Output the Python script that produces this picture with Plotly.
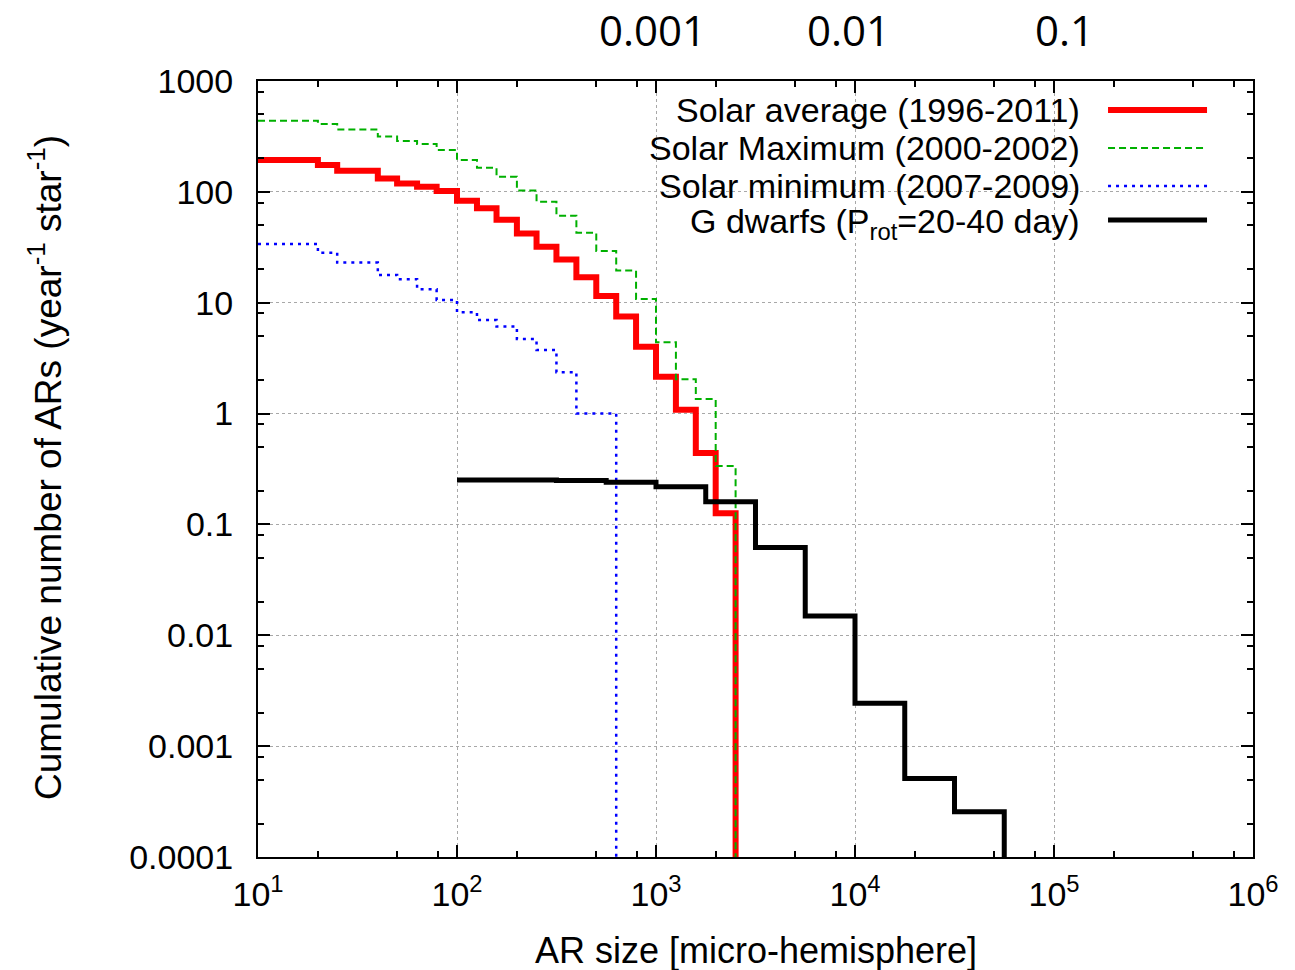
import math
import plotly.graph_objects as go

# ---- data ----
# AR size bins (micro-hemisphere) where each cumulative step begins
avg_x = [10, 20, 25, 40, 50, 63, 79, 100, 126, 158, 200, 251, 316, 398, 501, 631, 794, 1000, 1259, 1585, 1995, 2512]
avg_y = [194, 175, 155, 132, 119, 111, 102, 83, 71, 56, 42, 32, 24.6, 17, 11.5, 7.5, 4.0, 2.15, 1.08, 0.44, 0.126, 1e-6]

max_x = [10, 20, 25, 40, 50, 63, 79, 100, 126, 158, 200, 251, 316, 398, 501, 631, 794, 1000, 1259, 1585, 1995, 2512]
max_y = [438, 409, 366, 315, 288, 270, 239, 194, 165, 137, 103, 81.6, 61, 42.8, 29.3, 19.5, 10.8, 4.4, 2.04, 1.35, 0.336, 1e-6]

min_x = [10, 20, 25, 40, 50, 63, 79, 100, 126, 158, 200, 251, 316, 398, 631]
min_y = [33.9, 28.3, 23, 17.8, 16.3, 13.2, 10.6, 8.2, 7.0, 6.1, 4.7, 3.75, 2.36, 1.0, 1e-6]

gd_x = [100, 316, 562, 1000, 1778, 3162, 5623, 10000, 17783, 31623, 56234]
gd_y = [0.252, 0.249, 0.240, 0.219, 0.160, 0.062, 0.0149, 0.00244, 0.00051, 0.000256, 1e-6]

series_names = ["Solar average (1996-2011)", "Solar Maximum (2000-2002)",
                "Solar minimum (2007-2009)", "G dwarfs (P<sub>rot</sub>=20-40 day)"]

y_tickvals = [1000, 100, 10, 1, 0.1, 0.01, 0.001, 0.0001]
y_ticktext = ["1000", "100", "10", "1", "0.1", "0.01", "0.001", "0.0001"]
x_tickvals = [10, 100, 1000, 10000, 100000, 1000000]
x_ticktext = ["10<sup>1</sup>", "10<sup>2</sup>", "10<sup>3</sup>", "10<sup>4</sup>", "10<sup>5</sup>", "10<sup>6</sup>"]
top_vals = [1000, 10000, 100000]
top_text = ["0.001", "0.01", "0.1"]

FONT = "Liberation Sans, Arial, sans-serif"

styles = [
    dict(color="#ff0000", width=6, dash="solid"),
    dict(color="#00b000", width=2, dash="7px,4px"),
    dict(color="#0000ff", width=2.5, dash="3px,5px"),
    dict(color="#000000", width=5, dash="solid"),
]

fig = go.Figure()
for (xs, ys), name, st in zip([(avg_x, avg_y), (max_x, max_y), (min_x, min_y), (gd_x, gd_y)],
                              series_names, styles):
    fig.add_trace(go.Scatter(x=xs, y=ys, mode="lines", line_shape="hv", name=name,
                             line=st, showlegend=False))

minor_x = []
for d in [10, 100, 1000, 10000, 100000]:
    minor_x += [2 * d, 5 * d, 8 * d]
minor_y = []
for d in [0.0001, 0.001, 0.01, 0.1, 1, 10, 100]:
    minor_y += [2 * d, 5 * d, 8 * d]

axis_common = dict(
    type="log", showline=True, linecolor="black", linewidth=2, mirror="allticks",
    ticks="inside", ticklen=12, tickwidth=1.5, tickcolor="black",
    showgrid=True, gridcolor="#a8a8a8", griddash="dot", gridwidth=1,
    zeroline=False,
)

fig.update_xaxes(range=[1, 6], tickmode="array", tickvals=x_tickvals, ticktext=x_ticktext,
                 minor=dict(tickmode="array", tickvals=minor_x, ticks="inside", ticklen=6,
                            tickcolor="black", showgrid=False),
                 tickfont=dict(family=FONT, size=34, color="black"),
                 ticklabelstandoff=6, **axis_common)
fig.update_yaxes(range=[-4, 3], tickmode="array", tickvals=y_tickvals, ticktext=y_ticktext,
                 minor=dict(tickmode="array", tickvals=minor_y, ticks="inside", ticklen=6,
                            tickcolor="black", showgrid=False),
                 tickfont=dict(family=FONT, size=34, color="black"),
                 ticklabelstandoff=16, **axis_common)

# opaque key box (hides grid lines only)
fig.add_shape(type="rect", xref="paper", yref="paper", x0=0.203, x1=0.995, y0=0.791, y1=0.998,
              fillcolor="white", line=dict(width=0), layer="between")

# key: right-aligned text with sample lines on the right
row_y = [0.9626, 0.9137, 0.8647, 0.8170]
for name, st, ry in zip(series_names, styles, row_y):
    fig.add_annotation(xref="paper", yref="paper", x=0.828, y=ry, text=name, showarrow=False,
                       xanchor="right", yanchor="middle",
                       font=dict(family=FONT, size=34, color="black"))
    ly = ry + (0.004 if "rot" in name else 0)
    fig.add_shape(type="line", xref="paper", yref="paper", x0=0.8543, x1=0.9538, y0=ly, y1=ly,
                  line=dict(color=st["color"], width=st["width"], dash=st["dash"]), layer="above")

# top scale (fraction of hemisphere); annotation x on a log axis is given in log10 units
top_shift = [-4, -7, 10]
for v, t, s in zip(top_vals, top_text, top_shift):
    fig.add_annotation(x=math.log10(v), xref="x", yref="paper", y=1.0, yshift=52, xshift=s,
                       text=t, showarrow=False, xanchor="center", yanchor="middle",
                       font=dict(family="Open Sans, Noto Sans, sans-serif", size=42, color="black"))

# axis titles
fig.add_annotation(xref="paper", yref="paper", x=(756 - 258) / 995, y=(857 - 950) / 776,
                   text="AR size [micro-hemisphere]", showarrow=False, xanchor="center",
                   yanchor="middle", font=dict(family=FONT, size=36, color="black"))
fig.add_annotation(xref="paper", yref="paper", x=(45 - 258) / 995, y=(857 - 468) / 776,
                   text="Cumulative number of ARs (year<sup>-1</sup> star<sup>-1</sup>)",
                   textangle=-90, showarrow=False, xanchor="center", yanchor="middle",
                   font=dict(family=FONT, size=37, color="black"))

fig.update_layout(
    width=1295, height=970,
    margin=dict(l=258, r=42, t=81, b=113, pad=0),
    paper_bgcolor="white", plot_bgcolor="white",
    showlegend=False,
)

fig.write_html("out.html")
